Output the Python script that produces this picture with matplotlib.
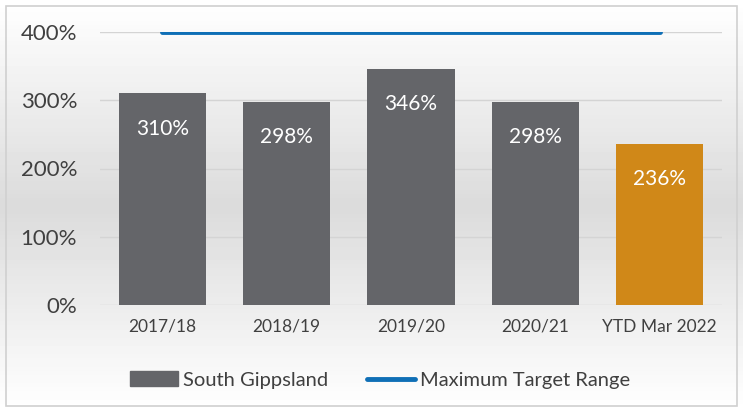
import numpy as np
import matplotlib
matplotlib.use("Agg")
import matplotlib.pyplot as plt
from matplotlib.patches import Rectangle
from matplotlib.lines import Line2D

categories = ["2017/18", "2018/19", "2019/20", "2020/21", "YTD Mar 2022"]
values = [310, 298, 346, 298, 236]
target = [400, 400, 400, 400, 400]
yticks = [0, 100, 200, 300, 400]

plt.rcParams['font.family'] = ['Lato', 'DejaVu Sans']

W, H = 743, 412
fig = plt.figure(figsize=(W/100, H/100), dpi=100)

# background gradient
bg = fig.add_axes([0, 0, 1, 1], zorder=-10)
grad = np.concatenate([np.linspace(1.0, 0.86, 50), np.linspace(0.86, 1.0, 50)])
bg.imshow(grad[:, None], cmap='gray', vmin=0, vmax=1, aspect='auto', extent=[0, 1, 0, 1])
bg.add_patch(Rectangle((6/W, 6/H), 1-12/W, 1-12/H, fill=False, edgecolor='#d0d0d0', lw=1.2, transform=bg.transAxes))
bg.set_axis_off()

ax = fig.add_axes([100/W, 1-305/H, 622/W, 273/H])
ax.patch.set_alpha(0)
x = np.arange(len(categories))
colors = ['#646569'] * 4 + ['#d08818']
ax.bar(x, values, width=0.7, color=colors, zorder=2)
ax.plot(x, target, color='#0f6fb6', lw=3.5, solid_capstyle='round', zorder=3)
for xi, v in zip(x, values):
    ax.annotate(f"{v}%", (xi, v), xytext=(0, -25.5), textcoords='offset points',
                ha='center', va='center', color='white', fontsize=15)
ax.set_xlim(-0.5, 4.5)
ax.set_ylim(0, 400)
ax.set_yticks(yticks)
ax.set_yticklabels([f"{t}%" for t in yticks], fontsize=16, color='#404040')
ax.set_xticks(x)
ax.set_xticklabels(categories, fontsize=12.5, color='#404040')
ax.tick_params(length=0, axis='both')
ax.tick_params(axis='y', pad=16.5)
ax.tick_params(axis='x', pad=10)
ax.grid(axis='y', color='#d4d4d4', lw=1, zorder=0)
for s in ax.spines.values():
    s.set_visible(False)

handles = [Rectangle((0, 0), 1, 1, color='#646569'),
           Line2D([0], [0], color='#0f6fb6', lw=3.5, solid_capstyle='round')]
fig.legend(handles, ["South Gippsland", "Maximum Target Range"], loc='center',
           bbox_to_anchor=(380/W, 1-380/H), ncol=2, frameon=False, fontsize=14.5,
           handlelength=2.4, handletextpad=0.25, columnspacing=1.9,
           labelcolor='#404040')

fig.savefig("out.png", dpi=100)
